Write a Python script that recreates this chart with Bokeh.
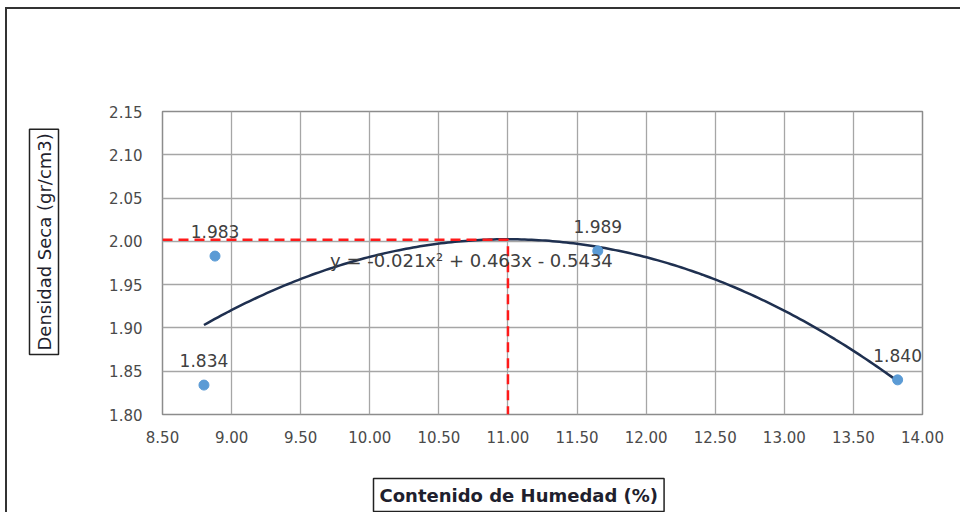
import numpy as np
from bokeh.plotting import figure
from bokeh.models import (Range1d, FixedTicker, PrintfTickFormatter, Label,
                          ColumnDataSource, LabelSet, Title)
from bokeh.core.properties import value
from bokeh.embed import file_html
from bokeh.resources import INLINE

# ---- data ----
humedad = [8.80, 8.88, 11.65, 13.82]
densidad = [1.834, 1.983, 1.989, 1.840]
etiquetas = ["1.834", "1.983", "1.989", "1.840"]
x_ticks = [8.50, 9.00, 9.50, 10.00, 10.50, 11.00, 11.50, 12.00, 12.50, 13.00, 13.50, 14.00]
y_ticks = [1.80, 1.85, 1.90, 1.95, 2.00, 2.05, 2.10, 2.15]
humedad_optima = 11.00
densidad_maxima = 2.002
ecuacion = "y = -0.021x\u00b2 + 0.463x - 0.5434"
x_title = "Contenido de Humedad (%)"
y_title = "Densidad Seca (gr/cm3)"

FONT = "DejaVu Sans"
TXT = "#404040"

x0, x1 = x_ticks[0], x_ticks[-1]
y0, y1 = y_ticks[0], y_ticks[-1]

p = figure(width=960, height=512, x_range=Range1d(x0, x1), y_range=Range1d(y0, y1),
           output_backend="svg", toolbar_location=None,
           min_border_left=162, min_border_top=111, min_border_right=38, min_border_bottom=98)
p.background_fill_color = "white"
p.border_fill_color = None
# outer chart frame (left and top edges)
p.styles = {"background": "linear-gradient(#333333,#333333) 5px 7px / 100% 2px no-repeat, "
                          "linear-gradient(#333333,#333333) 5px 7px / 2px 100% no-repeat, "
                          "#ffffff"}
p.outline_line_color = "#8c8c8c"
p.outline_line_width = 1.5

for ax in (p.xaxis[0], p.yaxis[0]):
    ax.axis_line_color = None
    ax.major_tick_line_color = None
    ax.minor_tick_line_color = None
    ax.major_tick_out = 0
    ax.major_tick_in = 0
    ax.formatter = PrintfTickFormatter(format="%.2f")
    ax.major_label_text_font = FONT
    ax.major_label_text_font_size = "15px"
    ax.major_label_text_color = "#4a4a4a"
p.xaxis[0].ticker = FixedTicker(ticks=x_ticks)
p.yaxis[0].ticker = FixedTicker(ticks=y_ticks)
p.xaxis[0].major_label_standoff = 16
p.yaxis[0].major_label_standoff = 20

p.xgrid.ticker = FixedTicker(ticks=x_ticks)
p.ygrid.ticker = FixedTicker(ticks=y_ticks)
for g in (p.xgrid[0], p.ygrid[0]):
    g.grid_line_color = "#a6a6a6"
    g.grid_line_width = 1.3

# trend line (2nd order polynomial fitted to the points)
coef = np.polyfit(humedad, densidad, 2)
xs = np.linspace(min(humedad), max(humedad), 200)
p.line(xs, np.polyval(coef, xs), line_color="#1f3050", line_width=2.5)

# optimum markers
p.line([x0, humedad_optima, humedad_optima], [densidad_maxima, densidad_maxima, y0],
       line_color="#ff1a1a", line_width=2.5, line_dash="10 6")

src = ColumnDataSource(dict(x=humedad, y=densidad, t=etiquetas))
p.scatter("x", "y", source=src, size=10, fill_color="#5b9bd5", line_color="#5b9bd5")
p.add_layout(LabelSet(x="x", y="y", text="t", source=src, y_offset=18,
                      text_align="center", text_baseline="alphabetic",
                      text_font=value(FONT), text_font_size="17px", text_color=TXT))

p.add_layout(Label(x=10.736, y=1.9775, text=ecuacion, text_align="center",
                   text_baseline="alphabetic", text_font=FONT, text_font_size="18px",
                   text_color=TXT))

# axis titles in boxes (an invisible spacer title sets the gap to the axis)
p.add_layout(Title(text=" ", text_font_size="1px", standoff=44), "left")
p.add_layout(Title(text=y_title, align="left", offset=60, standoff=2,
                   text_font=FONT, text_font_size="18px", text_font_style="normal",
                   text_color="#1f1f2e", background_fill_color="white",
                   border_line_color="#222222", border_line_width=1.5, padding=4), "left")
p.add_layout(Title(text=" ", text_font_size="1px", standoff=27), "below")
p.add_layout(Title(text=x_title, align="left", offset=211, standoff=2,
                   text_font=FONT, text_font_size="18px", text_font_style="bold",
                   text_color="#1f1f2e", background_fill_color="white",
                   border_line_color="#222222", border_line_width=1.5, padding=6), "below")

open("out.html", "w").write(file_html(p, INLINE))
